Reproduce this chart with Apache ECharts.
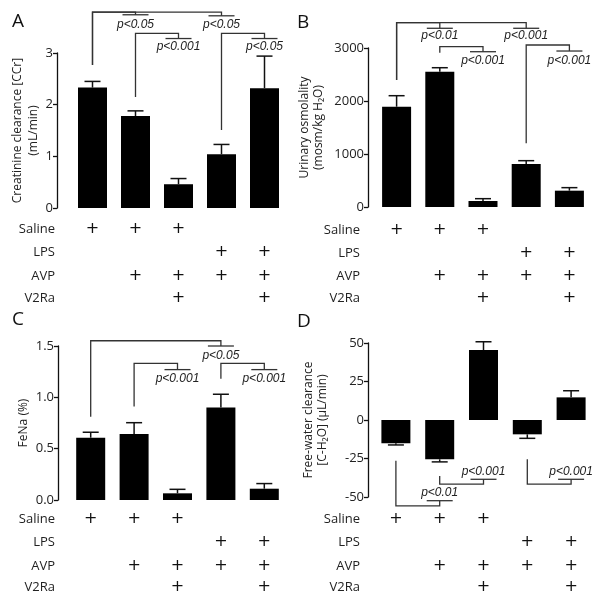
<!DOCTYPE html>
<html>
<head>
<meta charset="utf-8">
<script src="https://cdn.jsdelivr.net/npm/echarts@6/dist/echarts.min.js"></script>
<style>html,body{margin:0;padding:0;background:#fff}#c{width:600px;height:597px}</style>
</head>
<body>
<div id="c"></div>
<script>
// ---- data ----
const categories = ['Saline', 'Saline+AVP', 'Saline+AVP+V2Ra', 'LPS+AVP', 'LPS+AVP+V2Ra'];
const rowNames = ['Saline', 'LPS', 'AVP', 'V2Ra'];
const salineRow = [1, 1, 1, 0, 0];
const lpsRow    = [0, 0, 0, 1, 1];
const avpRow    = [0, 1, 1, 1, 1];
const v2raRow   = [0, 0, 1, 0, 1];

const ccrMean  = [2.33, 1.78, 0.46, 1.04, 2.32];
const ccrSem   = [0.12, 0.10, 0.11, 0.19, 0.62];
const osmMean  = [1892, 2553, 113, 811, 308];
const osmSem   = [208, 75, 44, 63, 57];
const fenaMean = [0.607, 0.643, 0.065, 0.90, 0.11];
const fenaSem  = [0.053, 0.11, 0.039, 0.13, 0.05];
const ch2oMean = [-15.1, -25.5, 45.4, -9.3, 14.7];
const ch2oSem  = [1.1, 1.7, 5.4, 2.6, 4.3];

// significance comparisons: [fromGroup, toGroup, lineStart, bracketLevel, stubLevel, textLevel]
const ccrSig  = [[0,1,2.77,3.79,3.74,3.54],[0,3,2.77,3.79,3.72,3.54],[1,2,2.15,3.38,3.28,3.12],[3,4,1.51,3.38,3.28,3.12]];
const ccrSigLabels  = ['p<0.05','p<0.05','p<0.001','p<0.05'];
const osmSig  = [[0,1,2396,3477,3372,3226],[0,3,2396,3477,3372,3226],[1,2,2911,3025,2930,2760],[3,4,1202,3057,2943,2760]];
const osmSigLabels  = ['p<0.01','p<0.001','p<0.001','p<0.001'];
const fenaSig = [[0,3,0.81,1.551,1.50,1.41],[1,2,0.91,1.33,1.27,1.18],[3,4,1.18,1.33,1.27,1.18]];
const fenaSigLabels = ['p<0.05','p<0.001','p<0.001'];
const ch2oSig = [[0,1,-26.4,-55.8,-52.4,-47.2],[1,2,-36.4,-41.6,-38.5,-33.6],[3,4,-25.5,-41.6,-38.5,-33.6]];
const ch2oSigLabels = ['p<0.01','p<0.001','p<0.001'];

// ---- layout ----
const FONT = '"Open Sans", "Noto Sans", sans-serif';
const panels = [
  {letter:'A', lx:12, ly:24, grid:{left:71, top:53, width:215, height:155}, yOff:14,
   y:{min:0,max:3,interval:1}, name:'Creatinine clearance [CCr]\n(mL/min)', nameGap:12, nameLH:16,
   mean:ccrMean, sem:ccrSem, sig:ccrSig, sigLabels:ccrSigLabels, rows:[21,44,68,90], rowGap:16, dec:0},
  {letter:'B', lx:297, ly:25, grid:{left:375, top:48, width:216, height:159}, yOff:7,
   y:{min:0,max:3000,interval:1000}, name:'Urinary osmolality\n(mosm/kg H\u2082O)', nameGap:42, nameLH:14,
   mean:osmMean, sem:osmSem, sig:osmSig, sigLabels:osmSigLabels, rows:[23,46,69,91], rowGap:15, dec:0},
  {letter:'C', lx:12, ly:322, grid:{left:69, top:346, width:217, height:154}, yOff:11,
   y:{min:0,max:1.5,interval:0.5}, name:'FeNa (%)', nameGap:27, nameLH:14,
   mean:fenaMean, sem:fenaSem, sig:fenaSig, sigLabels:fenaSigLabels, rows:[19,42,66,87], rowGap:14, dec:1},
  {letter:'D', lx:297, ly:324, grid:{left:374, top:343, width:219, height:154}, yOff:6,
   y:{min:-50,max:50,interval:25}, name:'Free-water clearance\n[C-H\u2082O] (\u03bcL/min)', nameGap:38, nameLH:14,
   mean:ch2oMean, sem:ch2oSem, sig:ch2oSig, sigLabels:ch2oSigLabels, rows:[22,45,69,90], rowGap:14, dec:0}
];
const rowData = [salineRow, lpsRow, avpRow, v2raRow];

const grids = [], xAxes = [], yAxes = [], series = [], graphics = [];

function errItem(params, api) {
  const x = api.value(0), m = api.value(1), s = api.value(2);
  const end = m + (m >= 0 ? s : -s);
  const p1 = api.coord([x, m]), p2 = api.coord([x, end]);
  return {type:'group', children:[
    {type:'line', shape:{x1:p1[0],y1:p1[1],x2:p2[0],y2:p2[1]}, style:{stroke:'#111',lineWidth:1.5}},
    {type:'line', shape:{x1:p2[0]-8,y1:p2[1],x2:p2[0]+8,y2:p2[1]}, style:{stroke:'#111',lineWidth:1.5}}
  ]};
}
function makeSig(labels) {
  return function(params, api) {
    const a = api.value(0), b = api.value(1);
    const p0 = api.coord([a, api.value(2)]), p1 = api.coord([a, api.value(3)]);
    const p2 = api.coord([b, api.value(3)]), p3 = api.coord([b, api.value(4)]);
    const pt = api.coord([b, api.value(5)]);
    return {type:'group', children:[
      {type:'polyline', shape:{points:[p0,p1,p2,p3]}, style:{stroke:'#333',lineWidth:1.3,fill:null}},
      {type:'line', shape:{x1:p3[0]-13,y1:p3[1],x2:p3[0]+13,y2:p3[1]}, style:{stroke:'#333',lineWidth:1.3}},
      {type:'text', x:pt[0], y:pt[1], style:{text:labels[params.dataIndex], fontStyle:'italic', fontSize:12,
        fontFamily:'"Liberation Sans", Arial, sans-serif', fill:'#222', align:'center', verticalAlign:'middle'}}
    ]};
  };
}

panels.forEach((p, g) => {
  grids.push(Object.assign({outerBoundsMode:'none', containLabel:false}, p.grid));
  xAxes.push({type:'category', gridIndex:g, data:categories, axisLine:{show:false}, axisTick:{show:false},
    axisLabel:{show:false}, splitLine:{show:false}});
  rowData.forEach((row, r) => {
    xAxes.push({type:'category', gridIndex:g, data:categories, position:'bottom', offset:p.rows[r],
      axisLine:{show:false}, axisTick:{show:false}, splitLine:{show:false},
      axisLabel:{interval:0, margin:0, verticalAlign:'middle', fontSize:16, color:'#111',
        fontFamily:'"DejaVu Sans", sans-serif',
        formatter:(v, i) => row[i] ? '+' : ''},
      name:rowNames[r], nameLocation:'start', nameGap:p.rowGap,
      nameTextStyle:{fontSize:13, color:'#222', fontFamily:FONT, align:'right', verticalAlign:'middle'}});
  });
  yAxes.push({type:'value', gridIndex:g, min:p.y.min, max:p.y.max, interval:p.y.interval, offset:p.yOff,
    axisLine:{show:true, lineStyle:{color:'#111', width:1.3}},
    axisTick:{show:true, length:4, lineStyle:{color:'#111', width:1.3}},
    splitLine:{show:false},
    axisLabel:{fontSize:13, color:'#222', fontFamily:FONT, margin:4,
      formatter:v => p.dec ? v.toFixed(p.dec) : String(v)},
    name:p.name, nameLocation:'middle', nameGap:p.nameGap,
    nameTextStyle:{fontSize:12, color:'#222', fontFamily:FONT, lineHeight:p.nameLH}});
  series.push({type:'bar', xAxisIndex:g*5, yAxisIndex:g, data:p.mean, barWidth:29,
    itemStyle:{color:'#000'}, silent:true, animation:false});
  series.push({type:'custom', xAxisIndex:g*5, yAxisIndex:g, clip:false, animation:false, silent:true,
    data:p.mean.map((m, i) => [i, m, p.sem[i]]), renderItem:errItem, z:3});
  series.push({type:'custom', xAxisIndex:g*5, yAxisIndex:g, clip:false, animation:false, silent:true,
    encode:{x:0, y:2}, data:p.sig, renderItem:makeSig(p.sigLabels), z:4});
  graphics.push({type:'text', left:p.lx, top:p.ly - 12, style:{text:p.letter, fontSize:19, fontFamily:FONT, fill:'#111'}});
});

const chart = echarts.init(document.getElementById('c'), null, {renderer:'canvas'});
chart.setOption({animation:false, grid:grids, xAxis:xAxes, yAxis:yAxes, series:series, graphic:graphics});
</script>
</body>
</html>
